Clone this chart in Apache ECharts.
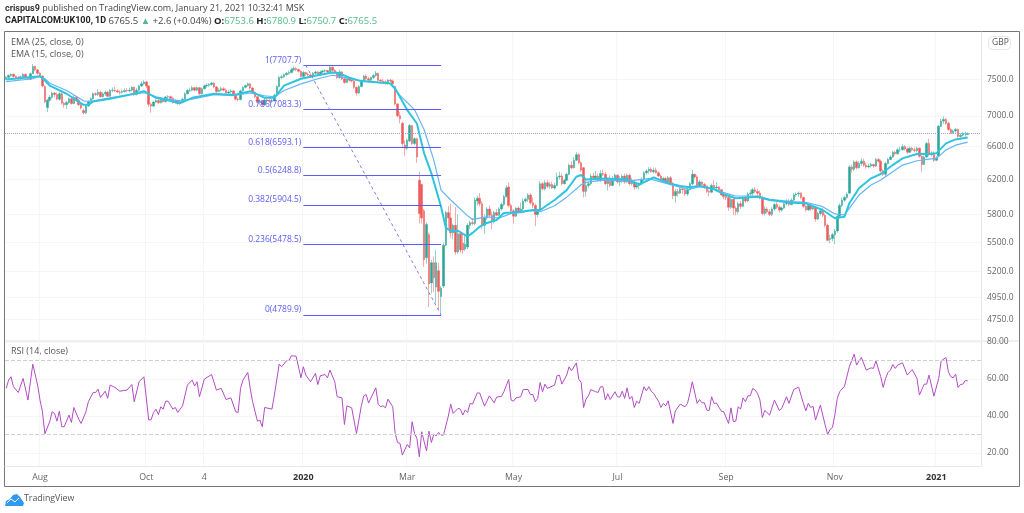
<!DOCTYPE html>
<html lang="en">
<head>
    <meta charset="UTF-8">
    <title>CAPITALCOM:UK100, 1D</title>
    <script src="https://cdn.jsdelivr.net/npm/echarts@6/dist/echarts.min.js"></script>
    <style>
        html, body { margin: 0; background: #fff; }
        #main { width: 1024px; height: 513px; }
    </style>
</head>
<body>
<div id="main"></div>
<script>
    let chart = echarts.init(document.getElementById('main'));

    // open, close, low, high, one row per daily bar
    let candles = [
        [7510,7530,7490,7550],[7530,7560,7515,7575],[7560,7575,7540,7590],[7575,7545,7530,7590],[7545,7530,7515,7560],[7530,7510,7500,7550],[7510,7540,7505,7555],[7540,7575,7530,7590],[7575,7530,7515,7585],[7530,7505,7490,7545],
        [7505,7585,7500,7600],[7585,7690,7580,7725],[7690,7640,7620,7700],[7640,7590,7570,7650],[7590,7550,7530,7605],[7550,7410,7390,7560],[7400,7190,7170,7420],[7110,7210,7050,7230],[7210,7250,7190,7280],[7250,7310,7230,7330],
        [7310,7290,7250,7325],[7290,7225,7210,7320],[7225,7300,7205,7325],[7300,7170,7150,7310],[7170,7150,7110,7190],[7150,7180,7090,7200],[7180,7230,7160,7250],[7230,7165,7150,7240],[7165,7250,7155,7280],[7250,7210,7190,7270],
        [7210,7150,7130,7230],[7150,7105,7085,7170],[7070,7040,7020,7090],[7040,7130,7025,7150],[7130,7190,7120,7210],[7190,7230,7170,7250],[7230,7300,7215,7320],[7300,7290,7270,7320],[7290,7320,7270,7365],[7320,7260,7245,7340],
        [7260,7300,7245,7320],[7300,7320,7270,7345],[7320,7265,7250,7340],[7265,7345,7255,7365],[7345,7350,7320,7390],[7350,7340,7320,7400],[7340,7325,7310,7365],[7325,7320,7290,7350],[7320,7330,7300,7360],[7330,7345,7315,7375],
        [7345,7340,7320,7380],[7340,7350,7320,7385],[7350,7390,7335,7400],[7390,7290,7270,7400],[7290,7350,7275,7380],[7350,7410,7340,7430],[7410,7440,7395,7475],[7440,7465,7420,7490],[7465,7410,7380,7480],[7410,7155,7120,7415],
        [7155,7130,7040,7180],[7130,7185,7120,7205],[7185,7205,7170,7225],[7205,7175,7160,7225],[7175,7220,7165,7250],[7220,7190,7175,7240],[7190,7255,7180,7270],[7255,7260,7225,7280],[7260,7235,7220,7275],[7235,7180,7165,7255],
        [7180,7200,7165,7220],[7200,7165,7150,7215],[7165,7190,7150,7215],[7190,7225,7170,7245],[7225,7300,7215,7320],[7300,7345,7290,7365],[7345,7350,7325,7385],[7350,7385,7335,7410],[7385,7350,7335,7395],[7350,7385,7335,7400],
        [7385,7300,7285,7395],[7300,7370,7290,7385],[7370,7410,7360,7430],[7410,7420,7385,7445],[7420,7430,7395,7450],[7430,7450,7410,7470],[7450,7395,7380,7460],[7395,7330,7310,7410],[7330,7350,7320,7375],[7350,7370,7335,7400],
        [7370,7350,7335,7390],[7350,7310,7295,7375],[7310,7325,7290,7350],[7325,7340,7300,7365],[7340,7290,7275,7355],[7290,7225,7210,7300],[7225,7220,7195,7250],[7220,7340,7210,7360],[7340,7390,7330,7405],[7390,7415,7375,7430],
        [7415,7440,7400,7460],[7440,7380,7360,7450],[7380,7320,7305,7395],[7320,7260,7240,7335],[7260,7180,7160,7275],[7180,7195,7150,7225],[7195,7150,7130,7210],[7150,7215,7140,7240],[7215,7205,7185,7245],[7205,7195,7170,7235],
        [7195,7200,7170,7235],[7200,7280,7190,7300],[7280,7400,7270,7420],[7400,7530,7390,7550],[7530,7540,7505,7565],[7540,7570,7520,7590],[7570,7590,7555,7610],[7590,7600,7570,7630],[7600,7640,7590,7670],[7640,7660,7620,7690],
        [7660,7645,7620,7680],[7645,7620,7600,7660],[7620,7545,7530,7635],[7545,7600,7530,7625],[7600,7575,7555,7615],[7575,7565,7545,7600],[7565,7550,7530,7590],[7550,7590,7540,7610],[7590,7610,7570,7625],[7610,7570,7555,7620],
        [7570,7610,7560,7630],[7610,7625,7590,7640],[7625,7630,7600,7650],[7630,7610,7595,7640],[7610,7680,7600,7710],[7680,7630,7610,7690],[7630,7600,7590,7650],[7600,7530,7510,7620],[7530,7610,7510,7640],[7610,7510,7490,7625],
        [7510,7460,7440,7530],[7460,7510,7450,7525],[7510,7490,7470,7525],[7490,7480,7460,7500],[7480,7390,7370,7500],[7390,7310,7275,7400],[7310,7400,7300,7420],[7400,7480,7390,7500],[7480,7550,7470,7565],[7550,7510,7490,7575],
        [7510,7490,7475,7540],[7490,7530,7480,7545],[7530,7560,7510,7575],[7560,7590,7540,7625],[7590,7490,7475,7600],[7490,7480,7455,7510],[7480,7470,7450,7510],[7470,7445,7430,7490],[7445,7490,7430,7510],[7490,7480,7460,7510],
        [7480,7440,7420,7500],[7400,7160,7140,7410],[7160,7000,6980,7170],[7000,6960,6900,7050],[6900,6640,6580,6920],[6620,6580,6480,6680],[6580,6680,6560,6700],[6670,6870,6660,6890],[6870,6640,6620,6880],[6640,6700,6620,6720],
        [6700,6470,6400,6710],[6190,5810,5700,6290],[6140,5760,5700,6150],[5840,5320,5250,5860],[5340,5690,5280,5710],[5580,5080,4860,5600],[5090,5290,4990,5320],[5290,5140,5000,5350],[5050,5290,4900,5420],[5210,5010,4830,5290],
        [4960,5040,4790,5060],[5060,5470,5040,5490],[5470,5820,5460,5840],[5820,5760,5650,5890],[5760,5600,5550,5920],[5600,5680,5530,5700],[5680,5400,5370,5880],[5400,5590,5380,5800],[5590,5420,5390,5620],[5490,5420,5380,5600],
        [5430,5480,5410,5570],[5450,5680,5430,5700],[5680,5710,5640,5730],[5710,5700,5680,5760],[5700,5960,5680,5990],[5950,5980,5900,6010],[5980,5920,5890,6040],[5920,5680,5640,5950],[5680,5760,5590,5800],[5760,5860,5740,5880],
        [5860,5790,5770,5900],[5790,5720,5640,5830],[5720,5820,5700,5840],[5820,5790,5780,5860],[5790,5860,5780,5880],[5860,5910,5840,5930],[5910,6000,5890,6020],[6000,6100,5990,6130],[6110,5900,5880,6160],[5900,5840,5810,5920],
        [5840,5780,5700,5860],[5780,5870,5770,5880],[5870,5840,5820,5890],[5840,5860,5820,5930],[5860,5950,5840,5980],[5950,5970,5930,5990],[5970,6020,5940,6040],[6020,5930,5910,6040],[5930,5900,5870,5990],[5900,5800,5670,5920],
        [5800,5840,5770,5860],[5840,6150,5830,6180],[6150,6090,6070,6170],[6090,6160,6070,6190],[6160,6120,6100,6190],[6120,6140,6090,6170],[6140,6100,6090,6170],[6100,6130,6080,6160],[6130,6230,6120,6280],[6230,6240,6200,6290],
        [6240,6150,6130,6270],[6150,6190,6140,6210],[6190,6260,6180,6280],[6260,6370,6250,6390],[6370,6340,6320,6420],[6340,6430,6330,6470],[6430,6500,6420,6530],[6500,6400,6380,6520],[6400,6310,6290,6420],[6340,6060,5990,6350],
        [6060,6130,6000,6200],[6130,6150,6100,6180],[6150,6240,6130,6270],[6240,6220,6200,6280],[6220,6240,6190,6300],[6240,6190,6170,6270],[6190,6270,6170,6310],[6270,6260,6240,6320],[6260,6150,6130,6290],[6150,6200,6070,6220],
        [6200,6130,6110,6250],[6130,6200,6120,6240],[6200,6250,6180,6270],[6250,6170,6150,6260],[6170,6180,6120,6240],[6180,6240,6160,6260],[6240,6170,6150,6270],[6170,6250,6160,6270],[6250,6150,6130,6270],[6150,6170,6130,6220],
        [6170,6110,6080,6190],[6110,6130,6090,6170],[6130,6150,6080,6170],[6150,6200,6130,6220],[6200,6280,6180,6300],[6280,6300,6260,6320],[6300,6320,6270,6350],[6320,6290,6280,6345],[6290,6310,6270,6340],[6310,6280,6270,6340],
        [6280,6240,6230,6300],[6240,6190,6170,6260],[6190,6210,6170,6230],[6210,6170,6150,6230],[6170,6220,6150,6240],[6220,6150,6130,6240],[6150,6010,5970,6170],[6010,6060,5930,6090],[6060,6040,6000,6090],[6040,6090,6030,6120],
        [6090,6080,6030,6110],[6080,6030,6010,6100],[6030,6080,6010,6100],[6080,6150,6070,6170],[6150,6260,6130,6310],[6260,6230,6210,6270],[6230,6120,6100,6250],[6120,6170,6110,6190],[6170,6140,6120,6180],[6140,6120,6090,6160],
        [6120,6060,6040,6130],[6060,6050,6000,6080],[6050,6130,6040,6150],[6130,6100,6080,6190],[6100,6110,6060,6170],[6110,6080,6050,6120],[6080,6020,6010,6090],[6020,6000,5970,6050],[6000,5990,5960,6020],[5990,5880,5840,6010],
        [5880,5970,5860,6000],[5970,5870,5790,5980],[5870,5830,5790,5890],[5830,5920,5800,5940],[5920,5890,5860,5950],[5890,5980,5880,6000],[5980,5950,5930,6010],[5950,6030,5940,6050],[6030,6040,6000,6080],[6040,6080,6010,6100],
        [6080,6060,6040,6110],[6060,6040,6010,6090],[6040,5990,5970,6070],[5990,5810,5790,6010],[5810,5860,5790,5890],[5860,5830,5810,5880],[5830,5800,5780,5860],[5800,5860,5780,5880],[5860,5910,5840,5930],[5910,5880,5860,5940],
        [5880,5850,5820,5900],[5850,5870,5830,5890],[5870,5920,5860,5930],[5920,5950,5900,5970],[5950,5910,5890,5970],[5910,5960,5900,5980],[5960,6020,5950,6040],[6020,6030,6000,6050],[6030,6040,6000,6060],[6040,5990,5970,6050],
        [5990,5890,5870,6000],[5890,5850,5830,5910],[5850,5900,5840,5910],[5900,5860,5840,5930],[5860,5880,5850,5900],[5880,5750,5720,5890],[5750,5810,5740,5830],[5810,5840,5790,5860],[5840,5790,5770,5870],[5790,5680,5660,5810],
        [5680,5520,5510,5700],[5530,5540,5490,5580],[5540,5580,5510,5600],[5580,5620,5480,5640],[5620,5780,5600,5800],[5780,5900,5770,5920],[5900,5960,5880,5990],[5960,5990,5940,6010],[5990,6030,5970,6050],[6040,6350,6030,6370],
        [6350,6320,6280,6380],[6320,6410,6300,6430],[6410,6340,6320,6430],[6340,6390,6330,6420],[6390,6420,6360,6460],[6420,6370,6350,6450],[6370,6350,6330,6400],[6350,6360,6330,6390],[6360,6380,6340,6400],[6380,6360,6340,6390],
        [6360,6440,6350,6460],[6440,6420,6400,6460],[6420,6300,6280,6440],[6300,6260,6240,6320],[6260,6390,6240,6410],[6390,6440,6380,6460],[6440,6470,6430,6490],[6470,6530,6460,6550],[6530,6510,6490,6550],[6510,6560,6500,6580],
        [6560,6560,6530,6600],[6560,6600,6550,6630],[6600,6570,6550,6620],[6570,6530,6510,6590],[6530,6580,6520,6600],[6580,6560,6540,6600],[6560,6550,6530,6590],[6550,6580,6530,6600],[6580,6480,6460,6590],[6480,6380,6290,6490],
        [6380,6470,6370,6490],[6470,6640,6460,6660],[6640,6500,6480,6700],[6500,6520,6480,6540],[6520,6430,6410,6540],[6430,6460,6420,6480],[6480,6860,6470,6880],[6860,6930,6850,6960],[6930,6950,6890,6990],[6950,6900,6880,6970],
        [6900,6820,6800,6920],[6820,6780,6760,6840],[6780,6800,6760,6820],[6800,6820,6780,6840],[6820,6730,6710,6830],[6730,6745,6710,6770],[6745,6760,6730,6790],[6760,6763,6725,6790],[6753.6,6765.5,6750.7,6780.9]
    ];

    // bar number, value
    let ema15 = [[0,7502],[14,7547],[16,7487],[18,7414],[25,7300],[32,7147],[34,7147],[36,7193],[43,7230],[53,7300],[57,7336],[59,7300],[62,7244],[66,7216],[72,7170],[77,7244],[86,7300],[94,7281],[101,7336],[107,7244],[111,7244],[115,7414],[122,7512],[129,7562],[135,7602],[138,7590],[142,7527],[147,7478],[152,7464],[159,7444],[161,7373],[166,7076],[170,6898],[173,6515],[176,6272],[180,5886],[182,5652],[184,5620],[187,5622],[191,5560],[193,5599],[196,5666],[199,5706],[203,5739],[206,5816],[209,5820],[213,5830],[218,5849],[221,5849],[227,5961],[232,6075],[236,6232],[238,6252],[240,6198],[248,6210],[257,6198],[262,6140],[268,6223],[275,6148],[279,6122],[283,6108],[287,6122],[293,6085],[298,6018],[302,5981],[311,5999],[316,5961],[325,5931],[331,5924],[338,5849],[343,5758],[347,5775],[349,5924],[353,6096],[358,6213],[362,6264],[367,6372],[371,6454],[377,6507],[382,6507],[385,6516],[389,6641],[393,6691],[398,6717]];
    let ema25 = [[0,7472],[11,7512],[14,7547],[16,7512],[18,7447],[25,7345],[32,7202],[34,7193],[36,7202],[43,7244],[53,7300],[57,7314],[59,7300],[62,7258],[66,7230],[72,7202],[77,7226],[86,7286],[94,7272],[101,7310],[107,7272],[111,7258],[115,7345],[122,7438],[129,7512],[135,7562],[138,7547],[147,7478],[159,7444],[163,7278],[169,7083],[173,6816],[177,6432],[180,6075],[184,5961],[191,5784],[193,5745],[199,5772],[204,5758],[209,5812],[213,5820],[217,5842],[221,5830],[227,5897],[232,5994],[238,6138],[240,6165],[247,6192],[257,6180],[266,6210],[279,6108],[283,6085],[287,6115],[293,6088],[298,6038],[302,6007],[311,6007],[316,5969],[325,5944],[331,5936],[338,5886],[343,5805],[347,5794],[349,5868],[353,6018],[358,6135],[362,6193],[367,6292],[371,6372],[377,6425],[382,6445],[385,6454],[389,6557],[393,6619],[398,6657]];
    let rsi = [[0,54.9],[1,59.4],[2,61.2],[3,55.8],[5,52.7],[7,60.3],[9,48.6],[11,68],[13,56.7],[14,48.6],[15,42.3],[16,30.4],[18,36.9],[19,42.3],[20,41.4],[21,37.2],[22,42.6],[23,34.2],[24,34.2],[26,40.5],[27,36.5],[28,44.6],[30,38.3],[31,36],[33,42.3],[34,47.7],[36,52.7],[37,52.7],[38,54.5],[39,50],[41,53.4],[42,49.5],[43,56.7],[45,55.4],[47,53.4],[50,54],[52,57],[53,47.7],[55,58.5],[57,61.2],[59,37.8],[60,38.1],[61,41.9],[62,43.7],[63,40.8],[64,45],[65,43.7],[66,48],[67,48],[69,43.7],[70,44.6],[71,41.9],[73,45.5],[75,56.7],[77,59.4],[78,56.2],[79,58.5],[80,50.4],[82,59.9],[85,62.4],[87,54],[89,54.9],[91,48.9],[93,49.8],[95,42.3],[96,41.9],[97,54.9],[98,59.4],[100,63.5],[101,54.9],[102,47.7],[104,37.2],[105,37.8],[106,34.2],[107,44.6],[110,43.7],[111,51.3],[113,68],[114,66.6],[116,69.8],[117,70],[118,72.5],[120,72.3],[122,60.6],[123,66.6],[124,62.1],[126,58.5],[128,63],[129,57],[130,61.7],[132,62.4],[133,60.6],[134,64.8],[136,58.5],[137,50.4],[139,49.8],[140,35.4],[141,45.5],[143,44.4],[145,30.6],[147,45.5],[148,50.9],[149,51.6],[150,47],[151,49.8],[153,55.2],[154,46.2],[155,45],[156,45.5],[157,44.4],[158,49.1],[160,45],[161,30.6],[162,25.7],[163,25.2],[164,18.9],[166,24.6],[167,22.8],[168,36.9],[169,30.6],[170,27.9],[171,18],[172,31.5],[173,26.1],[174,21.2],[175,31.8],[176,25.7],[177,30.2],[178,29.3],[179,31.1],[180,29.7],[181,29.7],[183,39.9],[184,46.4],[185,41.4],[187,44.1],[188,43.7],[189,40.5],[190,43.2],[191,41.9],[192,46.8],[193,46.4],[195,52.5],[196,52.4],[198,45.3],[200,50.9],[202,47.1],[203,50.2],[205,50.6],[206,53.1],[208,59.7],[209,48.6],
        [210,48],[211,49.8],[213,50.4],[214,54.3],[216,54.3],[217,51.6],[218,51.6],[219,47.7],[220,49.5],[221,58.1],[222,53.1],[223,57.2],[224,54.9],[227,56.7],[228,61.7],[229,62.1],[230,57.2],[232,62.1],[233,66.6],[234,64.4],[236,68.7],[237,59.9],[238,58.1],[239,44.6],[240,49.1],[241,50.9],[242,54.3],[244,53.1],[245,52.7],[246,55.8],[247,55.8],[248,48.6],[249,52],[250,48.9],[252,53.1],[253,50.4],[254,50.2],[255,53.4],[256,49.5],[257,55.2],[258,49.1],[259,50.6],[260,44.6],[261,48],[262,46.8],[264,55.8],[265,53.6],[266,55.8],[267,53.4],[268,52.2],[269,50],[270,48],[271,44.6],[272,46.8],[273,45.5],[274,48.2],[276,36],[277,42.8],[279,46.4],[281,45],[282,46.8],[283,52.2],[284,58.5],[286,46.8],[287,48.9],[288,47.1],[289,47.1],[290,43.2],[291,43],[292,50.4],[293,46.8],[294,47],[296,42.6],[297,42.3],[299,36],[300,44.4],[301,36.9],[302,37.2],[303,45],[304,43.7],[305,49.8],[306,47.7],[307,50.9],[308,50.9],[309,54.9],[310,54],[311,52.2],[312,48.6],[313,39.2],[314,43],[316,40.5],[318,48.6],[320,43],[321,44.1],[323,50.4],[324,46.8],[326,54.3],[328,55.6],[330,46.8],[331,42.8],[332,46.8],[333,44.6],[334,45.2],[335,37.8],[337,45.9],[339,35.1],[340,30],[341,32.7],[342,33.8],[343,40.5],[344,49.5],[345,53.1],[347,56.1],[349,66.6],[351,73.4],[352,67.5],[354,71.6],[356,64.8],[358,66],[359,65.7],[360,69.8],[362,61.2],[363,55.4],[364,60.3],[365,63.5],[366,64.8],[367,67.8],[368,65.7],[369,67.5],[371,68.7],[373,62.1],[375,65.1],[377,60.3],[378,51.3],[380,57.2],[381,57.2],[382,62.1],[384,50.7],[386,60.3],[387,69.8],[389,71.6],[390,63.9],[391,61.2],[392,60.6],[393,62.6],[394,55.4],[395,57],[396,57.2],[397,59.2],[398,59]];

    // fib levels
    let fib = [[1,7707.7],[0.786,7083.3],[0.618,6593.1],[0.5,6248.8],[0.382,5904.5],[0.236,5478.5],[0,4789.9]];

    // weekdays from the first bar, plus the empty slots on the right
    let dates = [];
    let day = new Date(Date.UTC(2019, 6, 11));
    while (dates.length < 404) {
        if (day.getUTCDay() % 6 != 0) dates.push(day.toISOString().slice(0, 10));
        day.setUTCDate(day.getUTCDate() + 1);
    }

    let marks = {14: 'Aug', 58: 'Oct', 82: '4', 123: '{b|2020}', 166: 'Mar', 210: 'May', 253: 'Jul', 298: 'Sep', 343: 'Nov', 385: '{b|2021}'};
    let isMark = index => marks[index] !== undefined;

    let grey = '#f6f6f8';
    let fibColor = '#5b5bf5';
    let font = '"Open Sans"';

    let fibLines = fib.map(item => [
        {coord: [123, item[1]], label: {show: true, position: 'start', distance: 2, offset: [0, -5], formatter: item[0] + '(' + item[1].toFixed(1) + ')', color: fibColor, fontSize: 8.5, fontFamily: font}},
        {coord: [180, item[1]]}
    ]);

    let option = {
        animation: false,
        grid: [
            {left: 5, right: 43, top: 32, height: 308},
            {left: 5, right: 43, top: 341, height: 125}
        ],
        xAxis: [
            {
                type: 'category', gridIndex: 0, data: dates,
                axisLine: {show: false}, axisTick: {show: false}, axisLabel: {show: false},
                splitLine: {show: true, interval: isMark, lineStyle: {color: grey}}
            },
            {
                type: 'category', gridIndex: 1, data: dates,
                axisLine: {lineStyle: {color: '#e8e8ec'}}, axisTick: {show: false},
                axisLabel: {
                    interval: isMark,
                    formatter: (value, index) => marks[index], color: '#666', fontSize: 8.8, fontFamily: font, margin: 7,
                    rich: {b: {fontWeight: 'bold', color: '#333', fontSize: 9, fontFamily: font}}
                },
                splitLine: {show: true, interval: isMark, lineStyle: {color: grey}}
            }
        ],
        yAxis: [
            {
                type: 'log', gridIndex: 0, position: 'right', min: 4565, max: 8212,
                axisLine: {show: true, lineStyle: {color: '#e6e6ea'}},
                axisTick: {show: false, customValues: [4750,4950,5200,5500,5800,6200,6600,7000,7500]},
                axisLabel: {customValues: [4750,4950,5200,5500,5800,6200,6600,7000,7500], formatter: value => value.toFixed(1), color: '#666', fontSize: 8.5, fontFamily: font, margin: 6, padding: [4, 0, 0, 0]},
                splitLine: {show: true, lineStyle: {color: grey}}
            },
            {
                type: 'value', gridIndex: 1, position: 'right', min: 13, max: 80.5,
                axisLine: {show: true, lineStyle: {color: '#e6e6ea'}},
                axisTick: {show: false, customValues: [20,40,60,80]},
                axisLabel: {customValues: [20,40,60,80], formatter: value => value.toFixed(2), color: '#666', fontSize: 8.5, fontFamily: font, margin: 6, padding: [2, 0, 0, 0]},
                splitLine: {show: true, lineStyle: {color: grey}}
            }
        ],
        series: [
            {
                type: 'candlestick', name: 'UK100', xAxisIndex: 0, yAxisIndex: 0, data: candles, barWidth: 2,
                itemStyle: {color: '#2aa597', color0: '#f0595a', borderColor: 'rgba(42,165,151,0.5)', borderColor0: 'rgba(240,89,90,0.5)', borderWidth: 1},
                markLine: {
                    silent: true, symbol: 'none', animation: false,
                    data: [
                        {yAxis: 6765.5, label: {show: false}, lineStyle: {color: '#a0a0dc', type: 'dotted', width: 1}},
                        ...fibLines,
                        [{coord: [124, 7707.7], label: {show: false}, lineStyle: {color: '#7a7af5', type: [3, 3], width: 1}}, {coord: [180, 4789.9]}]
                    ],
                    lineStyle: {color: fibColor, type: 'solid', width: 1}
                }
            },
            {type: 'line', name: 'EMA (25, close, 0)', xAxisIndex: 0, yAxisIndex: 0, data: ema25, symbol: 'none', lineStyle: {color: '#64b5f6', width: 1.2}},
            {type: 'line', name: 'EMA (15, close, 0)', xAxisIndex: 0, yAxisIndex: 0, data: ema15, symbol: 'none', lineStyle: {color: '#2fc4de', width: 2}},
            {
                type: 'line', name: 'RSI (14, close)', xAxisIndex: 1, yAxisIndex: 1, data: rsi, symbol: 'none',
                lineStyle: {color: '#b24cc4', width: 1},
                markLine: {
                    silent: true, symbol: 'none', animation: false, label: {show: false},
                    data: [{yAxis: 70}, {yAxis: 30}],
                    lineStyle: {color: '#cfcfd3', type: 'dashed', width: 1}
                }
            }
        ],
        graphic: [
            {type: 'rect', shape: {x: 5, y: 340, width: 1014, height: 2}, style: {fill: '#f0f0f2'}},
            {type: 'rect', shape: {x: 4.5, y: 31.5, width: 1015, height: 455}, style: {fill: 'none', stroke: '#777', lineWidth: 1}},
            {type: 'text', x: 5, y: 4, style: {
                text: '{b|crispus9} published on TradingView.com, January 21, 2021 10:32:41 MSK',
                fill: '#444', font: '9px ' + font,
                rich: {b: {fontWeight: 'bold', fill: '#333', fontSize: 9, fontFamily: 'Roboto'}}
            }},
            {type: 'text', x: 5, y: 16, style: {
                text: '{n|CAPITALCOM:UK100, 1D} 6765.5 {u|▲} +2.6 (+0.04%) {b|O:}{u|6753.6} {b|H:}{u|6780.9} {b|L:}{u|6750.7} {b|C:}{u|6765.5}',
                fill: '#444', font: '9.5px ' + font,
                rich: {
                    n: {fontWeight: 'bold', fill: '#222', fontSize: 9, fontFamily: 'Roboto'},
                    b: {fontWeight: 'bold', fill: '#222', fontSize: 9.5, fontFamily: font},
                    u: {fill: '#53b987', fontSize: 9.5, fontFamily: font}
                }
            }},
            {type: 'text', x: 11, y: 38, style: {text: 'EMA (25, close, 0)', fill: '#555', font: '9px ' + font}},
            {type: 'text', x: 11, y: 50, style: {text: 'EMA (15, close, 0)', fill: '#555', font: '9px ' + font}},
            {type: 'text', x: 11, y: 347, style: {text: 'RSI (14, close)', fill: '#555', font: '9px ' + font}},
            {type: 'rect', shape: {x: 988.5, y: 36.5, width: 22, height: 13, r: 4}, style: {fill: '#fff', stroke: '#e6e6e6', lineWidth: 1}},
            {type: 'text', x: 992, y: 38.5, style: {text: 'GBP', fill: '#555', font: '8.5px ' + font}},
            {type: 'polygon', shape: {points: [[5,506],[6,501],[10,499],[13,495],[17,494],[20,497],[22,500],[24,503],[23,506]]}, style: {fill: '#2e9bf0'}},
            {type: 'polyline', shape: {points: [[7,503],[11,499],[15,502],[19,498]]}, style: {fill: 'none', stroke: '#fff', lineWidth: 1}},
            {type: 'text', x: 24, y: 494, style: {text: 'TradingView', fill: '#555', font: '8.8px ' + font}}
        ]
    };

    chart.setOption(option);
</script>
</body>
</html>
